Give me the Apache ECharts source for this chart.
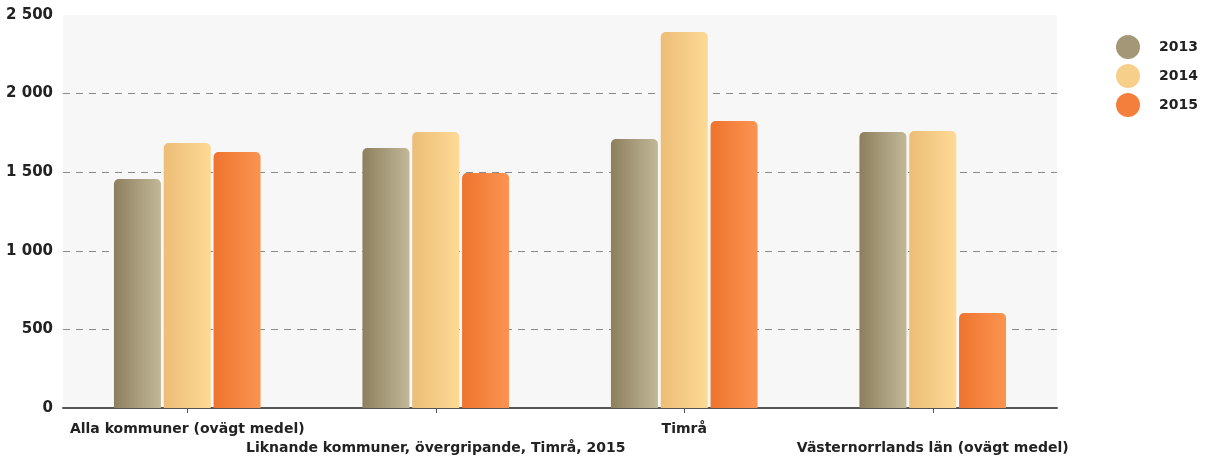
<!DOCTYPE html>
<html><head><meta charset="utf-8">
<script src="https://cdn.jsdelivr.net/npm/echarts@6/dist/echarts.min.js"></script>
<style>html,body{margin:0;padding:0;background:#fff}#c{width:1205px;height:461px}</style>
</head><body><div id="c"></div>
<script>
const categories = ["Alla kommuner (ovägt medel)", "Liknande kommuner, övergripande, Timrå, 2015", "Timrå", "Västernorrlands län (ovägt medel)"];
const seriesNames = ["2013", "2014", "2015"];
const values2013 = [1457, 1654, 1711, 1756];
const values2014 = [1686, 1756, 2392, 1762];
const values2015 = [1628, 1495, 1826, 604];
const yTicks = [0, 500, 1000, 1500, 2000, 2500];

const grad = (a, b) => new echarts.graphic.LinearGradient(0, 0, 1, 0, [{offset: 0, color: a}, {offset: 1, color: b}]);
const styles = [
  {fill: grad('#8c7f5e', '#c2b898'), dot: '#a39778'},
  {fill: grad('#ecbd76', '#fdda96'), dot: '#f6cf8a'},
  {fill: grad('#ee742f', '#fb9451'), dot: '#f47f3c'}
];
const data = [values2013, values2014, values2015];
const font = 'DejaVu Sans';
const chart = echarts.init(document.getElementById('c'));
chart.setOption({
  animation: false,
  textStyle: {fontFamily: font},
  legend: {
    orient: 'vertical', left: 1111, top: 30, itemGap: 5,
    itemWidth: 24, itemHeight: 24, icon: 'circle',
    textStyle: {fontFamily: font, fontWeight: 'bold', fontSize: 14, color: '#222', padding: [0, 0, 0, 14]},
    data: seriesNames.map((n, i) => ({name: n, itemStyle: {color: styles[i].dot}}))
  },
  grid: {left: 63, right: 148, top: 15, bottom: 53, show: true, backgroundColor: '#f7f7f7', borderWidth: 0},
  xAxis: {
    type: 'category', data: categories,
    axisLine: {lineStyle: {color: '#555', width: 2}},
    axisTick: {show: true, alignWithLabel: true, length: 5, lineStyle: {color: '#555'}},
    axisLabel: {
      interval: 0, color: '#222', fontWeight: 'bold', fontSize: 14, fontFamily: font, margin: 12, lineHeight: 19,
      formatter: (v, i) => i % 2 === 1 ? '\n' + v : v
    }
  },
  yAxis: {
    type: 'value', min: yTicks[0], max: yTicks[yTicks.length - 1], interval: 500,
    axisLine: {show: false}, axisTick: {show: false},
    axisLabel: {color: '#222', fontWeight: 'bold', fontSize: 15, fontFamily: font, margin: 10,
      formatter: v => String(v).replace(/\B(?=(\d{3})+(?!\d))/g, ' ')},
    splitLine: {show: true, showMaxLine: false, showMinLine: false, lineStyle: {color: '#8a8a8a', type: [7, 6], width: 1}}
  },
  series: seriesNames.map((n, i) => ({
    name: n, type: 'bar', data: data[i], barGap: '6%', barCategoryGap: '41%',
    itemStyle: {color: styles[i].fill, borderRadius: [5, 5, 0, 0]}
  }))
});
</script></body></html>
